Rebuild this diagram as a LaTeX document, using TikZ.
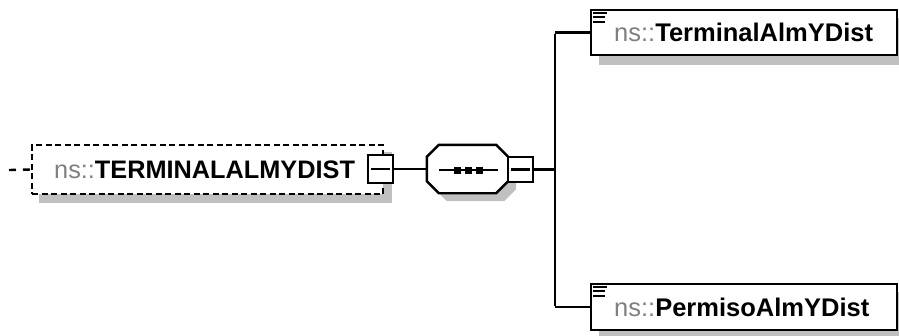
\documentclass[tikz,border=0pt]{standalone}
\usepackage{fontspec}
\setmainfont{Liberation Sans}
\usetikzlibrary{backgrounds}
\definecolor{nsgray}{RGB}{128,128,128}
\definecolor{shadowgray}{RGB}{192,192,192}
\newcommand\nmtext[1]{{\color{nsgray}ns::}\textbf{#1}}
\newcommand\octpath[1]{([xshift=12pt]#1.north west) -- ([xshift=-12pt]#1.north east) -- ([yshift=-12pt]#1.north east) -- ([yshift=12pt]#1.south east) -- ([xshift=-12pt]#1.south east) -- ([xshift=12pt]#1.south west) -- ([yshift=12pt]#1.south west) -- ([yshift=-12pt]#1.north west) -- cycle}
\tikzset{
  lw/.style={line width=2.4pt},
  mainbox/.style={lw, draw, fill=white, dash pattern=on 6pt off 3.5pt, minimum height=49pt,
    text width=307pt, inner xsep=22pt, align=left, anchor=west, font=\fontsize{25.3}{28}\selectfont},
  childbox/.style={lw, draw, fill=white, minimum height=45pt,
    text width=260pt, inner xsep=23pt, align=left, anchor=west, font=\fontsize{25.5}{28}\selectfont},
  minusbox/.style={lw, draw, fill=white, inner sep=0pt},
  seqframe/.style={minimum width=81pt, minimum height=48pt, inner sep=0pt},
  shadowbox/.style={fill=shadowgray, draw=none},
  conn/.style={lw},
}
\begin{document}
\begin{tikzpicture}[x=1pt,y=-1pt]
\useasboundingbox (0,0) rectangle (899,335);
% main element
\node[mainbox] (main) at (31,169.5) {\nmtext{TERMINALALMYDIST}};
\node[minusbox, minimum width=25pt, minimum height=28pt] (mminus) at (380.5,169) {};
\draw[lw] ([xshift=4.5pt]mminus.west) -- ([xshift=-4.5pt]mminus.east);
\coordinate (lstart) at (9,170);
\draw[lw, dash pattern=on 7pt off 7pt] (lstart) -- (main.west);
% sequence
\node[seqframe] (seq) at (467.5,169) {};
\node[seqframe] (seqsh) at (475.5,177) {};
\begin{scope}[on background layer]
  \fill[shadowbox] \octpath{seqsh};
\end{scope}
\filldraw[lw, fill=white] \octpath{seq};
\draw[lw] (439,170) -- (498,170);
\foreach \x [count=\i] in {457,468,479} {
  \node[fill=black, minimum size=7pt, inner sep=0pt] (dot\i) at (\x,170) {};
}
\node[minusbox, minimum width=25pt, minimum height=25pt] (sminus) at (520.5,169.5) {};
\draw[lw] ([xshift=4pt]sminus.west) -- ([xshift=-4pt]sminus.east);
% children
\node[childbox, minimum width=306pt] (c1) at (590,32.5) {\nmtext{TerminalAlmYDist}};
\node[childbox, minimum width=306pt, minimum height=46pt] (c2) at (590,307) {\nmtext{PermisoAlmYDist}};
\foreach \c in {c1,c2} {
  \draw[line width=2pt] ([shift={(3,4)}]\c.north west) -- ++(14,0);
  \draw[line width=2pt] ([shift={(3,8.5)}]\c.north west) -- ++(12,0);
  \draw[line width=2pt] ([shift={(3,13)}]\c.north west) -- ++(12,0);
}
% shadows
\begin{scope}[on background layer]
  \fill[shadowbox] ([shift={(8,8)}]main.north west) rectangle ([shift={(8,8)}]main.south east);
  \fill[shadowbox] ([shift={(9,9)}]c1.north west) rectangle ([shift={(9,9)}]c1.south east);
  \fill[shadowbox] ([shift={(9,9)}]c2.north west) rectangle ([shift={(9,9)}]c2.south east);
\end{scope}
% connectors
\coordinate (junc) at (555,169.5);
\coordinate (jtop) at (555,32.5);
\coordinate (jbot) at (555,307);
\draw[conn] (mminus.east) -- (seq.west);
\draw[conn] (sminus.east) -- (junc);
\draw[conn] ([yshift=-1.2pt]jtop) -- ([yshift=1.2pt]jbot);
\draw[conn] (jtop) -- (c1.west);
\draw[conn] (jbot) -- (c2.west);
\end{tikzpicture}
\end{document}
